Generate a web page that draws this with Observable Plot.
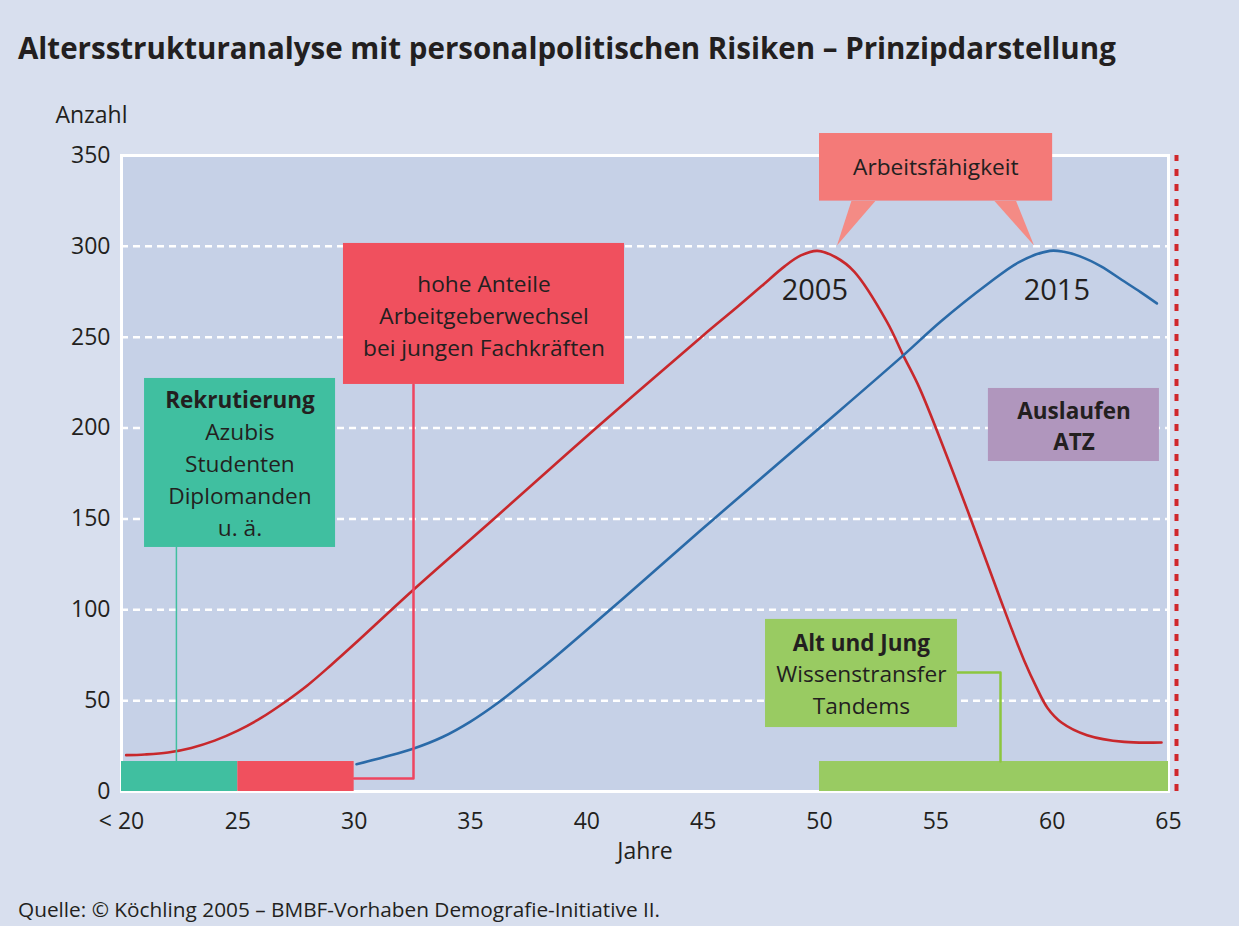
<!DOCTYPE html>
<html><head><meta charset="utf-8">
<script src="https://cdn.jsdelivr.net/npm/d3@7"></script>
<script src="https://cdn.jsdelivr.net/npm/@observablehq/plot@0.6"></script>
<style>
body{margin:0;background:#d8dfee;}
#wrap{position:relative;width:1239px;height:926px;background:#d8dfee;font-family:"Open Sans",sans-serif;color:#231f20;overflow:hidden}
#title{position:absolute;left:18px;top:29px;font-weight:700;font-size:29.5px;white-space:nowrap;line-height:38px}
#source{position:absolute;left:18px;top:895px;font-size:20.8px;white-space:nowrap;line-height:28px}
#chart{position:absolute;left:0;top:0}
</style></head>
<body>
<div id="wrap">
<div id="chart"></div>
<div id="title">Altersstrukturanalyse mit personalpolitischen Risiken – Prinzipdarstellung</div>
<div id="source">Quelle: © Köchling 2005 – BMBF-Vorhaben Demografie-Initiative II.</div>
</div>
<script>
// ---- data ----
const xTicks = [20, 25, 30, 35, 40, 45, 50, 55, 60, 65];
const xTickLabels = ["< 20", "25", "30", "35", "40", "45", "50", "55", "60", "65"];
const yTicks = [0, 50, 100, 150, 200, 250, 300, 350];
const gridValues = [50, 100, 150, 200, 250, 300];

const age2005 = [20.2, 21, 22, 23, 24, 25, 26, 27, 28, 29, 30, 32.5, 36, 40.4, 45, 46.5, 47.5, 48.5, 49.2, 49.9, 50.7, 51.5, 52.9, 53.6, 54.3, 55.4, 56.5, 57.8, 58.3, 58.8, 59.3, 59.8, 60.4, 61.5, 63.1, 64.7];
const count2005 = [20, 20.4, 21.5, 24, 28, 33.5, 40.5, 49, 58.5, 69.5, 81, 110.5, 150, 200, 251, 267, 278, 289, 295, 297.5, 294, 286, 258.5, 240, 222, 187, 150, 105, 88, 72, 58, 46, 38, 31, 27.3, 27];

const age2015 = [30.1, 31.3, 32.5, 33.8, 35, 36.2, 37.3, 38.5, 41.45, 45.46, 50, 53.6, 55.2, 57.2, 58.6, 59.9, 60.5, 61.2, 62.1, 63, 63.8, 64.5];
const count2015 = [15, 19, 23.4, 30, 38.5, 49, 60, 72.5, 105, 150, 200, 240, 258.5, 279, 291.5, 297.5, 297, 294.5, 289, 281.5, 274.8, 268.6];

const phaseLabels = ["Rekrutierung", "Fluktuation", "Wissenstransfer"];
const phaseStart = [20, 25, 50];
const phaseEnd = [25, 30, 65];
const phaseLevel = 16.5;

const seriesLabels = ["2005", "2015"];

// ---- build tables ----
const s2005 = age2005.map((a, i) => ({age: a, n: count2005[i]}));
const s2015 = age2015.map((a, i) => ({age: a, n: count2015[i]}));
const phaseColors = ["#40bfa0", "#f0505e", "#99cb62"];
const phases = phaseLabels.map((l, i) => ({label: l, x1: phaseStart[i], x2: phaseEnd[i], fill: phaseColors[i]}));

const boxes = [
  {x1: 20.99, x2: 29.20, y1: 134.3, y2: 227.3, fill: "#40bfa0"},
  {x1: 29.54, x2: 41.62, y1: 224.0, y2: 301.6, fill: "#f0505e"},
  {x1: 50.00, x2: 60.02, y1: 324.9, y2: 362.1, fill: "#f47a78"},
  {x1: 57.26, x2: 64.61, y1: 181.6, y2: 221.8, fill: "#b096bd"},
  {x1: 47.68, x2: 55.93, y1: 35.2, y2: 94.7, fill: "#99cb62"}
];
const pointers = [
  {id: "a", x: 51.37, y: 324.9}, {id: "a", x: 52.40, y: 324.9}, {id: "a", x: 50.75, y: 300.5},
  {id: "b", x: 57.52, y: 324.9}, {id: "b", x: 58.45, y: 324.9}, {id: "b", x: 59.22, y: 300.5}
];
const connTeal = [{x: 22.36, y: 134.3}, {x: 22.36, y: phaseLevel}];
const connRed = [{x: 32.55, y: 224.0}, {x: 32.55, y: 7.2}, {x: 30, y: 7.2}];
const connGreen = [{x: 55.93, y: 65.5}, {x: 57.78, y: 65.5}, {x: 57.78, y: phaseLevel}];

const ink = "#231f20";
const fs = 22.7, lh = 32 / 22.7;
const chart = Plot.plot({
  width: 1239, height: 926,
  marginLeft: 121, marginRight: 71, marginTop: 155, marginBottom: 135,
  x: {domain: [20, 65]},
  y: {domain: [0, 350]},
  style: {background: "transparent", fontFamily: "'Open Sans', sans-serif", fontSize: "20px", color: ink, overflow: "visible"},
  marks: [
    Plot.frame({fill: "#c6d1e7"}),
    Plot.ruleY(gridValues, {stroke: "white", strokeWidth: 2.5, strokeDasharray: "7,5"}),
    Plot.frame({stroke: "white", strokeWidth: 3}),
    Plot.ruleX([65], {y1: 0, y2: 350, dx: 8, stroke: "#d0282c", strokeWidth: 4, strokeDasharray: "7,8"}),
    Plot.line(s2005, {x: "age", y: "n", curve: "catmull-rom", stroke: "#c8282c", strokeWidth: 2.6}),
    Plot.line(s2015, {x: "age", y: "n", curve: "catmull-rom", stroke: "#2a6aa8", strokeWidth: 2.6}),
    Plot.rect(phases, {x1: "x1", x2: "x2", y1: 0, y2: phaseLevel, fill: "fill"}),
    Plot.line(connTeal, {x: "x", y: "y", stroke: "#40bfa0", strokeWidth: 1.5}),
    Plot.line(connRed, {x: "x", y: "y", stroke: "#ee4560", strokeWidth: 2.5}),
    Plot.line(connGreen, {x: "x", y: "y", stroke: "#8cc63f", strokeWidth: 2.5}),
    Plot.line(pointers, {x: "x", y: "y", z: "id", fill: "#f48b85", stroke: null}),
    Plot.rect(boxes, {x1: "x1", x2: "x2", y1: "y1", y2: "y2", fill: "fill"}),
    // box texts
    Plot.text(["Rekrutierung"], {x: 25.09, y: 215.2, fontWeight: 700, fontSize: 22.5, fill: ink}),
    Plot.text(["Azubis\nStudenten\nDiplomanden\nu. ä."], {x: 25.09, y: 172.9, fontSize: fs, lineHeight: lh, fill: ink}),
    Plot.text(["hohe Anteile\nArbeitgeberwechsel\nbei jungen Fachkräften"], {x: 35.58, y: 263.0, fontSize: fs, lineHeight: lh, fill: ink}),
    Plot.text(["Arbeitsfähigkeit"], {x: 55.0, y: 343.4, fontSize: fs, fill: ink}),
    Plot.text(["Auslaufen\nATZ"], {x: 60.94, y: 202.0, fontSize: 22.5, fontWeight: 700, lineHeight: lh, fill: ink}),
    Plot.text(["Alt und Jung"], {x: 51.8, y: 81.4, fontSize: 22.5, fontWeight: 700, fill: ink}),
    Plot.text(["Wissenstransfer\nTandems"], {x: 51.8, y: 57.2, fontSize: fs, lineHeight: lh, fill: ink}),
    Plot.text([seriesLabels[0]], {x: 49.8, y: 275.7, fontSize: 29, fill: ink}),
    Plot.text([seriesLabels[1]], {x: 60.2, y: 275.7, fontSize: 29, fill: ink}),
    // axes
    Plot.axisY({ticks: yTicks, tickSize: 0, tickPadding: 11, fontSize: 23, dy: 0, label: null}),
    Plot.axisX({ticks: xTicks, tickFormat: (d) => xTickLabels[xTicks.indexOf(d)], tickSize: 0, tickPadding: 21, fontSize: 23, label: null}),
    Plot.text(["Anzahl"], {frameAnchor: "top-left", dx: 6, dy: -40, textAnchor: "end", lineAnchor: "middle", fontSize: 23, fill: ink}),
    Plot.text(["Jahre"], {frameAnchor: "bottom", dy: 60, lineAnchor: "middle", fontSize: 23, fill: ink})
  ]
});
document.getElementById("chart").appendChild(chart);
</script>
</body></html>
